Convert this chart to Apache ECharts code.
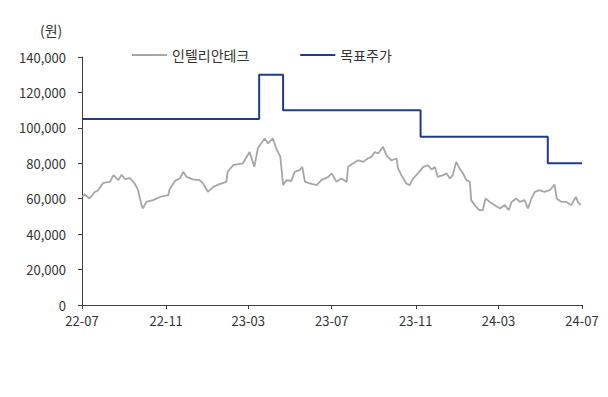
<!DOCTYPE html>
<html>
<head>
<meta charset="utf-8">
<script src="https://cdn.jsdelivr.net/npm/echarts@6/dist/echarts.min.js"></script>
<style>
html,body{margin:0;padding:0;background:#fff;}
#chart{width:608px;height:397px;}
</style>
</head>
<body>
<div id="chart"></div>
<script>
const seriesNames = ['인텔리안테크', '목표주가'];
const unitLabel = '(원)';

const priceDates = [
'2022-07-01','2022-07-05','2022-07-12','2022-07-20','2022-07-24','2022-08-01','2022-08-11','2022-08-16','2022-08-23','2022-08-28',
'2022-09-02','2022-09-09','2022-09-16','2022-09-21','2022-09-26','2022-09-28','2022-10-03','2022-10-13','2022-10-23','2022-11-04',
'2022-11-06','2022-11-14','2022-11-21','2022-11-26','2022-12-01','2022-12-10','2022-12-20','2022-12-25','2023-01-01','2023-01-09',
'2023-01-18','2023-01-28','2023-01-30','2023-02-07','2023-02-21','2023-03-03','2023-03-10','2023-03-15','2023-03-18','2023-03-25',
'2023-03-30','2023-04-06','2023-04-11','2023-04-17','2023-04-21','2023-04-26','2023-05-03','2023-05-08','2023-05-15','2023-05-19',
'2023-05-23','2023-05-30','2023-06-09','2023-06-16','2023-06-26','2023-07-01','2023-07-08','2023-07-15','2023-07-23','2023-07-25',
'2023-08-01','2023-08-09','2023-08-16','2023-08-23','2023-08-28','2023-09-02','2023-09-07','2023-09-14','2023-09-19','2023-09-26',
'2023-10-04','2023-10-06','2023-10-11','2023-10-18','2023-10-23','2023-10-28','2023-11-04','2023-11-12','2023-11-19','2023-11-24',
'2023-11-29','2023-12-03','2023-12-11','2023-12-16','2023-12-21','2023-12-25','2023-12-30','2024-01-04','2024-01-09','2024-01-14',
'2024-01-19','2024-01-21','2024-01-26','2024-02-02','2024-02-07','2024-02-11','2024-02-17','2024-02-24','2024-03-03','2024-03-10',
'2024-03-16','2024-03-20','2024-03-27','2024-04-01','2024-04-08','2024-04-13','2024-04-18','2024-04-23','2024-04-30','2024-05-07',
'2024-05-15','2024-05-22','2024-05-25','2024-06-01','2024-06-08','2024-06-15','2024-06-22','2024-06-25','2024-06-29'
];
const priceValues = [
61000,62400,60100,63900,64500,69000,69500,73300,70500,73500,
71000,71600,68600,64800,56400,54500,58200,59200,61000,62000,
65200,70100,71400,75200,72300,70900,70500,68600,63900,66700,
68200,69500,75200,78900,79900,86400,78000,88300,90200,94000,
91200,94000,88300,83600,67700,70500,70000,75200,76100,78000,
69500,68600,67700,70500,72300,74300,69500,71400,69500,78000,
79900,81700,80800,82700,83600,86400,85500,89300,84600,81700,
82700,77100,73300,68600,67700,71400,74300,78000,78900,76500,
77900,72300,73300,74300,71400,73300,80800,77100,74300,70500,
69500,59200,56400,53600,53600,60100,58200,56400,54500,56400,
53600,58200,60100,58200,59200,54500,60100,63900,64800,63900,
64800,68000,60100,58200,58200,56400,61000,58200,56400
];

const targetDates = ['2022-07-01','2023-03-17','2023-04-21','2023-11-08','2024-05-12','2024-07-01'];
const targetValues = [105000,130000,110000,95000,80000,80000];

const tickDates = ['2022-07-01','2022-11-01','2023-03-01','2023-07-01','2023-11-01','2024-03-01','2024-07-01'];
const tickLabels = ['22-07','22-11','23-03','23-07','23-11','24-03','24-07'];

const yMin = 0, yMax = 140000, yStep = 20000;

const FONT = '"Noto Sans CJK KR", "Noto Sans", sans-serif';
const toTime = d => Date.UTC(+d.slice(0, 4), +d.slice(5, 7) - 1, +d.slice(8, 10));
const tickTimes = tickDates.map(toTime);
const GRAY = '#a6a6a6', NAVY = '#1e3c8c';

const chart = echarts.init(document.getElementById('chart'), null, {renderer: 'svg'});
chart.setOption({
  backgroundColor: '#fff',
  animation: false,
  textStyle: {fontFamily: FONT},
  grid: {left: 82, right: 26, top: 57, bottom: 92},
  legend: {
    left: 127, top: 43,
    icon: 'rect',
    itemWidth: 35, itemHeight: 2, itemGap: 51,
    textStyle: {fontSize: 14, color: '#333', fontFamily: FONT},
    data: seriesNames
  },
  graphic: [{
    type: 'text', left: 40, top: 23,
    style: {text: unitLabel, fontSize: 14, fill: '#333', fontFamily: FONT}
  }],
  xAxis: {
    type: 'value', scale: true,
    min: tickTimes[0], max: tickTimes[tickTimes.length - 1],
    axisLine: {show: true, lineStyle: {color: '#404040', width: 1}},
    axisTick: {show: true, length: 4, lineStyle: {color: '#404040'}, customValues: tickTimes},
    axisLabel: {
      customValues: tickTimes,
      fontSize: 13, color: '#333', margin: 9, fontFamily: FONT,
      formatter: function (v) {
        let best = 0;
        tickTimes.forEach((t, i) => { if (Math.abs(t - v) < Math.abs(tickTimes[best] - v)) best = i; });
        return tickLabels[best];
      }
    },
    splitLine: {show: false}
  },
  yAxis: {
    type: 'value', min: yMin, max: yMax, interval: yStep,
    axisLine: {show: true, lineStyle: {color: '#404040', width: 1}},
    axisTick: {show: true, length: 4, lineStyle: {color: '#404040'}},
    axisLabel: {
      fontSize: 13, color: '#333', margin: 16, fontFamily: FONT,
      formatter: v => v.toLocaleString('en-US')
    },
    splitLine: {show: false}
  },
  series: [
    {
      name: seriesNames[0], type: 'line', symbol: 'none',
      lineStyle: {color: GRAY, width: 1.8},
      itemStyle: {color: GRAY},
      data: priceDates.map((d, i) => [toTime(d), priceValues[i]])
    },
    {
      name: seriesNames[1], type: 'line', symbol: 'none', step: 'end',
      lineStyle: {color: NAVY, width: 2},
      itemStyle: {color: NAVY},
      data: targetDates.map((d, i) => [toTime(d), targetValues[i]])
    }
  ]
});
</script>
</body>
</html>
